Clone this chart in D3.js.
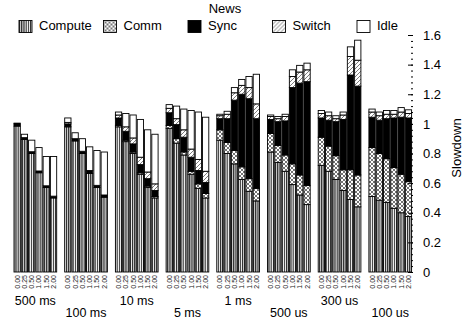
<!DOCTYPE html>
<html>
<head>
<meta charset="utf-8">
<script src="https://cdn.jsdelivr.net/npm/d3@7"></script>
<style>
  body { margin: 0; background: #fff; }
  text { font-family: "Liberation Sans", Arial, Helvetica, sans-serif; }
</style>
</head>
<body>
<svg id="chart" width="466" height="320"></svg>
<script>
// --- data ---
const groups = ["500 ms", "100 ms", "10 ms", "5 ms", "1 ms", "500 us", "300 us", "100 us"];
const ratios = ["0.00", "0.25", "0.50", "1.00", "1.50", "2.00"];
const components = ["Compute", "Comm", "Sync", "Switch", "Idle"];

// one row per group, one value per ratio
const computeVals = [
  [0.985, 0.895, 0.80, 0.67, 0.57, 0.50],
  [0.98, 0.885, 0.80, 0.665, 0.57, 0.505],
  [0.98, 0.88, 0.80, 0.66, 0.57, 0.50],
  [0.97, 0.87, 0.79, 0.66, 0.565, 0.50],
  [0.89, 0.80, 0.73, 0.625, 0.545, 0.48],
  [0.81, 0.74, 0.68, 0.59, 0.52, 0.455],
  [0.72, 0.68, 0.625, 0.55, 0.49, 0.44],
  [0.51, 0.485, 0.47, 0.43, 0.40, 0.375]
];
const commVals = [
  [0, 0, 0, 0, 0, 0],
  [0, 0, 0, 0, 0, 0],
  [0.01, 0.01, 0.01, 0.01, 0.01, 0.01],
  [0.02, 0.03, 0.02, 0.02, 0.03, 0.03],
  [0.07, 0.075, 0.09, 0.085, 0.085, 0.085],
  [0.125, 0.115, 0.11, 0.14, 0.135, 0.13],
  [0.19, 0.17, 0.16, 0.14, 0.20, 0.215],
  [0.33, 0.315, 0.295, 0.275, 0.26, 0.235]
];
const syncVals = [
  [0.015, 0.012, 0.012, 0.012, 0.012, 0.012],
  [0.02, 0.015, 0.015, 0.02, 0.015, 0.015],
  [0.05, 0.06, 0.055, 0.055, 0.05, 0.04],
  [0.085, 0.095, 0.10, 0.095, 0.09, 0.075],
  [0.075, 0.16, 0.34, 0.49, 0.54, 0.47],
  [0.095, 0.16, 0.23, 0.515, 0.62, 0.70],
  [0.13, 0.175, 0.23, 0.34, 0.64, 0.60],
  [0.205, 0.225, 0.27, 0.335, 0.385, 0.43]
];
const switchVals = [
  [0, 0, 0, 0, 0, 0],
  [0.01, 0, 0, 0, 0, 0],
  [0.02, 0.03, 0.04, 0.05, 0.045, 0.045],
  [0.03, 0.04, 0.05, 0.055, 0.075, 0.075],
  [0.02, 0.03, 0.05, 0.06, 0.075, 0.10],
  [0.02, 0.02, 0.03, 0.075, 0.075, 0.08],
  [0.03, 0.03, 0.02, 0.03, 0.125, 0.175],
  [0.035, 0.03, 0.03, 0.025, 0.035, 0.03]
];
const idleVals = [
  [0.005, 0.023, 0.078, 0.158, 0.198, 0.268],
  [0.03, 0.04, 0.085, 0.16, 0.235, 0.29],
  [0.02, 0.09, 0.155, 0.255, 0.285, 0.335],
  [0.025, 0.085, 0.14, 0.26, 0.32, 0.365],
  [0.01, 0.02, 0.035, 0.04, 0.075, 0.20],
  [0.01, 0.015, 0.015, 0.045, 0.045, 0.045],
  [0.02, 0.025, 0.02, 0.02, 0.065, 0.135],
  [0.02, 0.025, 0.025, 0.025, 0.03, 0.025]
];

const yTicks = [0, 0.2, 0.4, 0.6, 0.8, 1.0, 1.2, 1.4, 1.6];
const yTickLabels = ["0", "0.2", "0.4", "0.6", "0.8", "1", "1.2", "1.4", "1.6"];
const yMinorStep = 0.04;

// --- chart ---
const svg = d3.select("#chart");
const defs = svg.append("defs");

// fill patterns
let p = defs.append("pattern").attr("id", "pat-Compute")
  .attr("patternUnits", "userSpaceOnUse").attr("width", 2.2).attr("height", 4);
p.append("rect").attr("width", 2.2).attr("height", 4).attr("fill", "#fff");
p.append("line").attr("x1", 0.6).attr("x2", 0.6).attr("y1", 0).attr("y2", 4)
  .attr("stroke", "#000").attr("stroke-width", 1);

p = defs.append("pattern").attr("id", "pat-Comm")
  .attr("patternUnits", "userSpaceOnUse").attr("width", 4).attr("height", 4);
p.append("rect").attr("width", 4).attr("height", 4).attr("fill", "#fff");
p.append("path").attr("d", "M0,0L4,4M4,0L0,4")
  .attr("stroke", "#000").attr("stroke-width", 0.55);

p = defs.append("pattern").attr("id", "pat-Sync")
  .attr("patternUnits", "userSpaceOnUse").attr("width", 4).attr("height", 4);
p.append("rect").attr("width", 4).attr("height", 4).attr("fill", "#000");

p = defs.append("pattern").attr("id", "pat-Switch")
  .attr("patternUnits", "userSpaceOnUse").attr("width", 4).attr("height", 4);
p.append("rect").attr("width", 4).attr("height", 4).attr("fill", "#fff");
p.append("path").attr("d", "M-1,1L1,-1M0,4L4,0M3,5L5,3")
  .attr("stroke", "#444").attr("stroke-width", 0.7);

p = defs.append("pattern").attr("id", "pat-Idle")
  .attr("patternUnits", "userSpaceOnUse").attr("width", 4).attr("height", 4);
p.append("rect").attr("width", 4).attr("height", 4).attr("fill", "#fff");

const valuesByKey = {
  Compute: computeVals, Comm: commVals, Sync: syncVals, Switch: switchVals, Idle: idleVals
};

const rows = groups.flatMap((g, gi) => ratios.map((r, ri) => {
  const row = { group: g, ratio: r };
  components.forEach(k => { row[k] = valuesByKey[k][gi][ri]; });
  return row;
}));

const x0 = d3.scaleBand().domain(groups).range([14, 411.6]).paddingInner(0.158);
const x1 = d3.scaleBand().domain(ratios).range([0, x0.bandwidth()]).paddingInner(0.137);
const y = d3.scaleLinear().domain([0, 1.6]).range([272, 35]);

const stacked = d3.stack().keys(components)(rows);

svg.append("g").selectAll("g")
  .data(stacked)
  .join("g")
    .attr("fill", d => "url(#pat-" + d.key + ")")
  .selectAll("rect")
  .data(d => d.filter(s => s[1] - s[0] > 0))
  .join("rect")
    .attr("x", d => x0(d.data.group) + x1(d.data.ratio))
    .attr("y", d => y(d[1]))
    .attr("width", x1.bandwidth())
    .attr("height", d => y(d[0]) - y(d[1]))
    .attr("stroke", "#000")
    .attr("stroke-width", 0.9);

// ratio labels under each bar
svg.append("g").selectAll("text")
  .data(rows)
  .join("text")
    .attr("transform", d => "translate(" + (x0(d.group) + x1(d.ratio) + x1.bandwidth() / 2) + ",275) rotate(-90)")
    .attr("text-anchor", "end")
    .attr("dy", "0.35em")
    .attr("font-size", 7)
    .attr("fill", "#222")
    .text(d => d.ratio);

// group labels, staggered
svg.append("g").selectAll("text")
  .data(groups)
  .join("text")
    .attr("x", d => x0(d) + x0.bandwidth() / 2)
    .attr("y", (d, i) => i % 2 ? 317 : 305)
    .attr("text-anchor", "middle")
    .attr("font-size", 12.5)
    .text(d => d);

// y axis on the right
const axisX = 413;
svg.append("g")
  .attr("transform", "translate(" + axisX + ",0)")
  .call(d3.axisRight(y).tickValues(d3.range(0, 1.6 + 1e-9, yMinorStep)).tickSize(-2).tickFormat(""))
  .call(g => g.select(".domain").remove());

svg.append("g")
  .attr("transform", "translate(" + axisX + ",0)")
  .call(d3.axisRight(y).tickValues(yTicks).tickSize(-5).tickPadding(10)
    .tickFormat((d, i) => yTickLabels[i]))
  .call(g => g.select(".domain").remove())
  .call(g => g.selectAll("text").attr("font-size", 13).attr("font-family", null).attr("fill", "#000"));

svg.append("text")
  .attr("transform", "translate(456,148) rotate(-90)")
  .attr("text-anchor", "middle")
  .attr("dy", "0.35em")
  .attr("font-size", 13)
  .text("Slowdown");

// legend
svg.append("text")
  .attr("x", 225).attr("y", 13)
  .attr("text-anchor", "middle")
  .attr("font-size", 13)
  .text("News");

const legend = svg.append("g").selectAll("g")
  .data(components)
  .join("g")
    .attr("transform", (d, i) => "translate(" + (19 + i * 84.5) + ",20.5)");
legend.append("rect")
  .attr("width", 13).attr("height", 12)
  .attr("fill", d => "url(#pat-" + d + ")")
  .attr("stroke", "#000").attr("stroke-width", 0.9);
legend.append("text")
  .attr("x", 20).attr("y", 9.5)
  .attr("font-size", 13)
  .text(d => d);
</script>
</body>
</html>
